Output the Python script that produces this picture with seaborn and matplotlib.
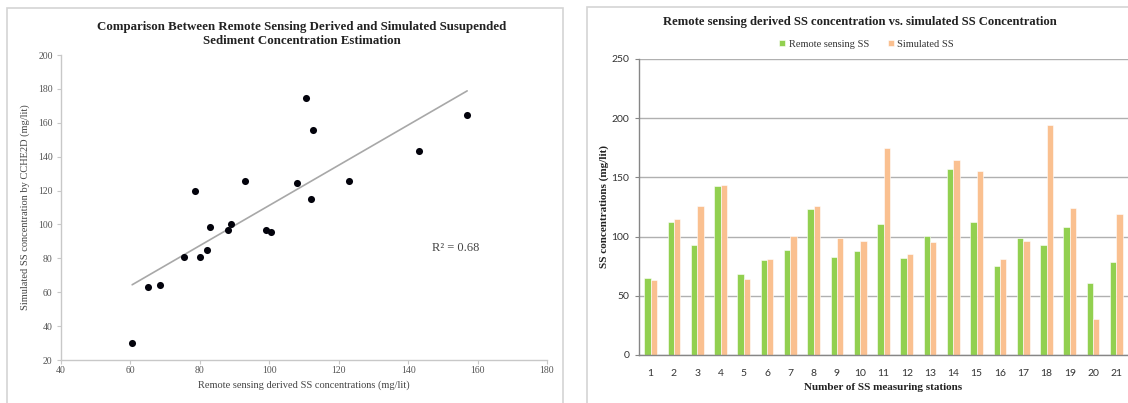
import matplotlib
matplotlib.use("Agg")
import matplotlib.pyplot as plt
import seaborn as sns
import pandas as pd
from matplotlib.patches import Rectangle

# ---- data ----
stations = list(range(1, 22))
remote_ss = [65, 112, 93, 143, 68.5, 80, 89, 123, 83, 88, 110.5, 82, 100.5,
             157, 112.5, 75.5, 99, 93, 108, 60.5, 78.5]
simulated_ss = [63, 115, 125.5, 143.5, 64.5, 81, 100.5, 125.5, 98.5, 96.5, 174.5,
                85, 95.5, 164.5, 155.5, 81, 96.5, 194.5, 124.5, 30, 119.5]
scatter_excluded = [18]
series_names = ["Remote sensing SS", "Simulated SS"]
r2_label = "R² = 0.68"

sns.set_theme(style="white")
plt.rcParams['font.family'] = ['Liberation Serif', 'DejaVu Serif']

W, H = 1128, 403
fig = plt.figure(figsize=(W / 100, H / 100), dpi=100)

# panel frames
for (x0, y0, x1, y1) in [(7, 8, 563, 420), (587, 7, 1140, 420)]:
    fig.patches.append(Rectangle((x0 / W, 1 - y1 / H), (x1 - x0) / W, (y1 - y0) / H,
                                 transform=fig.transFigure, fill=False,
                                 edgecolor="#d4d4d4", linewidth=1.2, zorder=0))

# ---------------- left: scatter ----------------
df = pd.DataFrame({"station": stations, "remote": remote_ss, "sim": simulated_ss})
sc = df[~df["station"].isin(scatter_excluded)]

ax1 = fig.add_axes([61 / W, 1 - 360 / H, 486 / W, 305 / H])
sns.regplot(data=sc, x="remote", y="sim", ax=ax1, ci=None, truncate=True,
            scatter_kws=dict(s=26, color="#03030c", linewidths=0, alpha=1, zorder=3),
            line_kws=dict(color="#a8a8a8", linewidth=1.2))
ax1.set_xlim(40, 180)
ax1.set_ylim(20, 200)
ax1.set_xticks(range(40, 181, 20))
ax1.set_yticks(range(20, 201, 20))
for s in ["top", "right"]:
    ax1.spines[s].set_visible(False)
for s in ["left", "bottom"]:
    ax1.spines[s].set_color("#c8c8c8")
    ax1.spines[s].set_linewidth(1.0)
ax1.tick_params(axis="both", which="both", length=3, width=0.8, color="#c8c8c8",
                labelsize=7, labelcolor="#555555", direction="out")
ax1.tick_params(axis="x", bottom=True, pad=1.5)
ax1.tick_params(axis="y", left=True, pad=3)
ax1.set_xlabel("Remote sensing derived SS concentrations (mg/lit)", fontsize=7.5,
               color="#444444", labelpad=4)
ax1.set_ylabel("Simulated SS concentration by CCHE2D (mg/lit)", fontsize=7.5,
               color="#444444", labelpad=6)
ax1.text(432 / W, 1 - 248 / H, r2_label, transform=fig.transFigure, fontsize=9,
         color="#444444", va="center", ha="left")
fig.text(302 / W, 1 - 27 / H, "Comparison Between Remote Sensing Derived and Simulated Susupended",
         ha="center", va="center", fontsize=9.3, fontweight="bold", color="#222222")
fig.text(302 / W, 1 - 41 / H, "Sediment Concentration Estimation",
         ha="center", va="center", fontsize=9.3, fontweight="bold", color="#222222")

# ---------------- right: bars ----------------
long = pd.DataFrame({
    "station": [str(s) for s in stations] * 2,
    "value": remote_ss + simulated_ss,
    "series": [series_names[0]] * len(stations) + [series_names[1]] * len(stations),
})
ax2 = fig.add_axes([639 / W, 1 - 355 / H, 489 / W, 296 / H])
sns.barplot(data=long, x="station", y="value", hue="series", ax=ax2,
            palette=["#92d050", "#fac090"], width=0.54, gap=0, saturation=1,
            edgecolor="white", linewidth=0.4)
ax2.set_xlim(-0.5, 20.5)
ax2.set_ylim(0, 250)
ax2.set_yticks(range(0, 251, 50))
ax2.yaxis.grid(True, color="#b0b0b0", linewidth=1.0)
ax2.set_axisbelow(True)
for s in ["top", "right"]:
    ax2.spines[s].set_visible(False)
for s in ["left", "bottom"]:
    ax2.spines[s].set_color("#868686")
    ax2.spines[s].set_linewidth(1.0)
ax2.tick_params(axis="y", left=True, length=3, width=0.8, color="#868686",
                labelsize=7.5, pad=4)
ax2.tick_params(axis="x", bottom=False, labelsize=7.5, pad=4)
for lab in ax2.get_xticklabels() + ax2.get_yticklabels():
    lab.set_fontfamily("Lato")
    lab.set_color("#333333")
ax2.set_xlabel("Number of SS measuring stations", fontsize=8, fontweight="bold",
               color="#222222", labelpad=4)
ax2.set_ylabel("SS concentrations (mg/lit)", fontsize=8, fontweight="bold",
               color="#222222", labelpad=2)
handles, labels = ax2.get_legend_handles_labels()
ax2.legend(handles, labels, loc="center", bbox_to_anchor=(0.465, 1.05), ncol=2,
           frameon=False, fontsize=7.5, handlelength=0.6, handleheight=0.6,
           handletextpad=0.3, columnspacing=1.8, labelcolor="#333333")
fig.text(860 / W, 1 - 22 / H,
         "Remote sensing derived SS concentration vs. simulated SS Concentration",
         ha="center", va="center", fontsize=9.1, fontweight="bold", color="#222222")

fig.savefig("out.png", dpi=100)
